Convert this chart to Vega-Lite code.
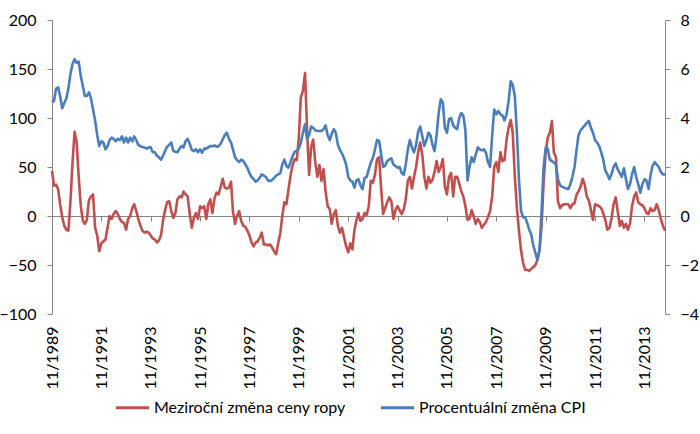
{
"$schema":"https://vega.github.io/schema/vega-lite/v6.json",
"width":613,"height":294,
"autosize":{"type":"none"},
"padding":{"left":52,"top":20,"right":35,"bottom":120},
"background":"white",
"config":{"view":{"stroke":null},"font":"Lato","axis":{"grid":false,"labelFont":"Lato","labelFontSize":16,"labelColor":"#000000","domainColor":"#868686","tickColor":"#868686","title":null}},
"data":{"values":[
{"d":"1989-11","o":46,"c":4.65},{"d":"1989-12","o":31,"c":4.7},
{"d":"1990-01","o":32,"c":5.2},{"d":"1990-02","o":27,"c":5.25},{"d":"1990-03","o":12,"c":4.9},{"d":"1990-04","o":-1,"c":4.4},{"d":"1990-05","o":-10,"c":4.6},{"d":"1990-06","o":-14,"c":4.8},{"d":"1990-07","o":-15,"c":5.2},{"d":"1990-08","o":15,"c":5.8},{"d":"1990-09","o":55,"c":6.2},{"d":"1990-10","o":86,"c":6.4},{"d":"1990-11","o":75,"c":6.25},{"d":"1990-12","o":40,"c":6.3},
{"d":"1991-01","o":10,"c":5.7},{"d":"1991-02","o":-5,"c":5.3},{"d":"1991-03","o":-8,"c":4.9},{"d":"1991-04","o":-4,"c":4.9},{"d":"1991-05","o":16,"c":5.05},{"d":"1991-06","o":20,"c":4.8},{"d":"1991-07","o":22,"c":4.35},{"d":"1991-08","o":-12,"c":3.9},{"d":"1991-09","o":-20,"c":3.3},{"d":"1991-10","o":-36,"c":2.86},{"d":"1991-11","o":-28,"c":3.05},{"d":"1991-12","o":-26,"c":3.0},
{"d":"1992-01","o":-24,"c":2.72},{"d":"1992-02","o":-12,"c":2.85},{"d":"1992-03","o":0,"c":3.1},{"d":"1992-04","o":-3,"c":3.2},{"d":"1992-05","o":2,"c":3.15},{"d":"1992-06","o":5,"c":3.05},{"d":"1992-07","o":2,"c":3.15},{"d":"1992-08","o":-3,"c":3.1},{"d":"1992-09","o":-6,"c":3.25},{"d":"1992-10","o":-7,"c":3.0},{"d":"1992-11","o":-14,"c":3.2},{"d":"1992-12","o":-3,"c":3.0},
{"d":"1993-01","o":0,"c":3.2},{"d":"1993-02","o":8,"c":3.05},{"d":"1993-03","o":12,"c":3.25},{"d":"1993-04","o":5,"c":3.1},{"d":"1993-05","o":-3,"c":2.9},{"d":"1993-06","o":-10,"c":2.85},{"d":"1993-07","o":-15,"c":2.82},{"d":"1993-08","o":-17,"c":2.8},{"d":"1993-09","o":-16,"c":2.75},{"d":"1993-10","o":-17,"c":2.8},{"d":"1993-11","o":-20,"c":2.8},{"d":"1993-12","o":-23,"c":2.6},
{"d":"1994-01","o":-24,"c":2.6},{"d":"1994-02","o":-27,"c":2.45},{"d":"1994-03","o":-25,"c":2.4},{"d":"1994-04","o":-20,"c":2.3},{"d":"1994-05","o":-5,"c":2.45},{"d":"1994-06","o":6,"c":2.65},{"d":"1994-07","o":14,"c":2.83},{"d":"1994-08","o":15,"c":2.9},{"d":"1994-09","o":5,"c":3.0},{"d":"1994-10","o":-2,"c":2.65},{"d":"1994-11","o":3,"c":2.62},{"d":"1994-12","o":17,"c":2.6},
{"d":"1995-01","o":20,"c":2.75},{"d":"1995-02","o":19,"c":2.86},{"d":"1995-03","o":25,"c":2.8},{"d":"1995-04","o":22,"c":3.06},{"d":"1995-05","o":20,"c":3.15},{"d":"1995-06","o":2,"c":2.95},{"d":"1995-07","o":-12,"c":2.7},{"d":"1995-08","o":-2,"c":2.65},{"d":"1995-09","o":3,"c":2.72},{"d":"1995-10","o":-3,"c":2.6},{"d":"1995-11","o":10,"c":2.72},{"d":"1995-12","o":8,"c":2.58},
{"d":"1996-01","o":10,"c":2.75},{"d":"1996-02","o":-3,"c":2.75},{"d":"1996-03","o":12,"c":2.8},{"d":"1996-04","o":17,"c":2.86},{"d":"1996-05","o":3,"c":2.85},{"d":"1996-06","o":18,"c":2.88},{"d":"1996-07","o":24,"c":2.83},{"d":"1996-08","o":22,"c":2.85},{"d":"1996-09","o":30,"c":2.95},{"d":"1996-10","o":38,"c":3.13},{"d":"1996-11","o":29,"c":3.3},{"d":"1996-12","o":28,"c":3.4},
{"d":"1997-01","o":29,"c":3.15},{"d":"1997-02","o":35,"c":3.0},{"d":"1997-03","o":5,"c":2.72},{"d":"1997-04","o":-8,"c":2.4},{"d":"1997-05","o":0,"c":2.28},{"d":"1997-06","o":5,"c":2.2},{"d":"1997-07","o":-5,"c":2.3},{"d":"1997-08","o":-10,"c":2.25},{"d":"1997-09","o":-11,"c":2.1},{"d":"1997-10","o":-15,"c":1.97},{"d":"1997-11","o":-20,"c":1.75},{"d":"1997-12","o":-27,"c":1.6},
{"d":"1998-01","o":-31,"c":1.5},{"d":"1998-02","o":-27,"c":1.4},{"d":"1998-03","o":-26,"c":1.45},{"d":"1998-04","o":-22,"c":1.56},{"d":"1998-05","o":-17,"c":1.7},{"d":"1998-06","o":-29,"c":1.65},{"d":"1998-07","o":-29,"c":1.6},{"d":"1998-08","o":-30,"c":1.45},{"d":"1998-09","o":-29,"c":1.43},{"d":"1998-10","o":-32,"c":1.47},{"d":"1998-11","o":-36,"c":1.55},{"d":"1998-12","o":-39,"c":1.65},
{"d":"1999-01","o":-27,"c":1.7},{"d":"1999-02","o":-17,"c":1.75},{"d":"1999-03","o":0,"c":2.1},{"d":"1999-04","o":14,"c":2.3},{"d":"1999-05","o":12,"c":2.05},{"d":"1999-06","o":27,"c":1.97},{"d":"1999-07","o":41,"c":2.2},{"d":"1999-08","o":52,"c":2.45},{"d":"1999-09","o":58,"c":2.62},{"d":"1999-10","o":57,"c":2.65},{"d":"1999-11","o":80,"c":2.75},{"d":"1999-12","o":121,"c":3.0},
{"d":"2000-01","o":128,"c":3.4},{"d":"2000-02","o":146,"c":3.74},{"d":"2000-03","o":90,"c":3.15},{"d":"2000-04","o":42,"c":3.3},{"d":"2000-05","o":70,"c":3.65},{"d":"2000-06","o":78,"c":3.6},{"d":"2000-07","o":55,"c":3.5},{"d":"2000-08","o":40,"c":3.47},{"d":"2000-09","o":52,"c":3.47},{"d":"2000-10","o":36,"c":3.47},{"d":"2000-11","o":48,"c":3.54},{"d":"2000-12","o":25,"c":3.7},
{"d":"2001-01","o":10,"c":3.3},{"d":"2001-02","o":7,"c":3.1},{"d":"2001-03","o":-8,"c":3.35},{"d":"2001-04","o":2,"c":3.54},{"d":"2001-05","o":6,"c":3.4},{"d":"2001-06","o":-10,"c":2.9},{"d":"2001-07","o":-17,"c":2.7},{"d":"2001-08","o":-12,"c":2.55},{"d":"2001-09","o":-22,"c":2.35},{"d":"2001-10","o":-31,"c":2.1},{"d":"2001-11","o":-37,"c":1.6},{"d":"2001-12","o":-28,"c":1.45},
{"d":"2002-01","o":-34,"c":1.4},{"d":"2002-02","o":-14,"c":1.16},{"d":"2002-03","o":-5,"c":1.45},{"d":"2002-04","o":3,"c":1.5},{"d":"2002-05","o":-5,"c":1.25},{"d":"2002-06","o":-3,"c":1.1},{"d":"2002-07","o":3,"c":1.55},{"d":"2002-08","o":1,"c":1.6},{"d":"2002-09","o":10,"c":1.9},{"d":"2002-10","o":36,"c":2.18},{"d":"2002-11","o":34,"c":2.38},{"d":"2002-12","o":42,"c":2.7},
{"d":"2003-01","o":58,"c":3.1},{"d":"2003-02","o":60,"c":3.06},{"d":"2003-03","o":30,"c":2.55},{"d":"2003-04","o":2,"c":2.0},{"d":"2003-05","o":8,"c":2.05},{"d":"2003-06","o":14,"c":2.24},{"d":"2003-07","o":19,"c":2.31},{"d":"2003-08","o":15,"c":2.35},{"d":"2003-09","o":-3,"c":2.1},{"d":"2003-10","o":6,"c":2.04},{"d":"2003-11","o":10,"c":1.97},{"d":"2003-12","o":6,"c":2.0},
{"d":"2004-01","o":2,"c":1.75},{"d":"2004-02","o":7,"c":1.68},{"d":"2004-03","o":17,"c":2.1},{"d":"2004-04","o":36,"c":2.72},{"d":"2004-05","o":40,"c":3.1},{"d":"2004-06","o":28,"c":2.8},{"d":"2004-07","o":40,"c":2.6},{"d":"2004-08","o":50,"c":2.9},{"d":"2004-09","o":65,"c":3.45},{"d":"2004-10","o":75,"c":3.65},{"d":"2004-11","o":62,"c":3.25},{"d":"2004-12","o":40,"c":2.86},
{"d":"2005-01","o":28,"c":3.1},{"d":"2005-02","o":40,"c":3.4},{"d":"2005-03","o":34,"c":3.3},{"d":"2005-04","o":37,"c":2.9},{"d":"2005-05","o":45,"c":2.65},{"d":"2005-06","o":56,"c":3.3},{"d":"2005-07","o":45,"c":4.2},{"d":"2005-08","o":50,"c":4.76},{"d":"2005-09","o":58,"c":4.63},{"d":"2005-10","o":30,"c":3.6},{"d":"2005-11","o":22,"c":3.4},{"d":"2005-12","o":40,"c":3.95},
{"d":"2006-01","o":44,"c":4.0},{"d":"2006-02","o":20,"c":3.7},{"d":"2006-03","o":40,"c":3.6},{"d":"2006-04","o":40,"c":3.55},{"d":"2006-05","o":33,"c":4.0},{"d":"2006-06","o":25,"c":4.2},{"d":"2006-07","o":20,"c":4.1},{"d":"2006-08","o":10,"c":3.5},{"d":"2006-09","o":-4,"c":1.45},{"d":"2006-10","o":-3,"c":2.0},{"d":"2006-11","o":6,"c":2.4},{"d":"2006-12","o":0,"c":2.2},
{"d":"2007-01","o":-8,"c":2.5},{"d":"2007-02","o":-3,"c":2.8},{"d":"2007-03","o":-6,"c":2.72},{"d":"2007-04","o":-12,"c":2.68},{"d":"2007-05","o":-9,"c":2.72},{"d":"2007-06","o":-6,"c":2.58},{"d":"2007-07","o":-1,"c":2.2},{"d":"2007-08","o":5,"c":2.0},{"d":"2007-09","o":20,"c":3.3},{"d":"2007-10","o":50,"c":4.35},{"d":"2007-11","o":55,"c":4.15},{"d":"2007-12","o":45,"c":4.29},
{"d":"2008-01","o":65,"c":4.15},{"d":"2008-02","o":56,"c":4.1},{"d":"2008-03","o":57,"c":3.9},{"d":"2008-04","o":78,"c":4.15},{"d":"2008-05","o":90,"c":4.7},{"d":"2008-06","o":98,"c":5.5},{"d":"2008-07","o":85,"c":5.35},{"d":"2008-08","o":40,"c":4.9},{"d":"2008-09","o":8,"c":3.4},{"d":"2008-10","o":-15,"c":1.5},{"d":"2008-11","o":-35,"c":0.2},{"d":"2008-12","o":-48,"c":-0.05},
{"d":"2009-01","o":-55,"c":-0.05},{"d":"2009-02","o":-55,"c":-0.3},{"d":"2009-03","o":-56,"c":-0.55},{"d":"2009-04","o":-54,"c":-0.75},{"d":"2009-05","o":-52,"c":-1.2},{"d":"2009-06","o":-50,"c":-1.5},{"d":"2009-07","o":-45,"c":-1.8},{"d":"2009-08","o":-35,"c":-1.4},{"d":"2009-09","o":-10,"c":0.2},{"d":"2009-10","o":35,"c":2.0},{"d":"2009-11","o":65,"c":2.8},{"d":"2009-12","o":80,"c":2.75},
{"d":"2010-01","o":85,"c":2.3},{"d":"2010-02","o":97,"c":2.24},{"d":"2010-03","o":65,"c":2.18},{"d":"2010-04","o":60,"c":2.1},{"d":"2010-05","o":15,"c":1.5},{"d":"2010-06","o":8,"c":1.25},{"d":"2010-07","o":11,"c":1.2},{"d":"2010-08","o":12,"c":1.16},{"d":"2010-09","o":12,"c":1.12},{"d":"2010-10","o":12,"c":1.1},{"d":"2010-11","o":8,"c":1.3},{"d":"2010-12","o":12,"c":1.6},
{"d":"2011-01","o":13,"c":2.0},{"d":"2011-02","o":22,"c":2.7},{"d":"2011-03","o":25,"c":3.3},{"d":"2011-04","o":30,"c":3.5},{"d":"2011-05","o":38,"c":3.6},{"d":"2011-06","o":32,"c":3.7},{"d":"2011-07","o":20,"c":3.8},{"d":"2011-08","o":16,"c":3.88},{"d":"2011-09","o":6,"c":3.6},{"d":"2011-10","o":-4,"c":3.4},{"d":"2011-11","o":12,"c":3.1},{"d":"2011-12","o":11,"c":3.0},
{"d":"2012-01","o":10,"c":2.85},{"d":"2012-02","o":8,"c":2.6},{"d":"2012-03","o":3,"c":2.3},{"d":"2012-04","o":-4,"c":1.85},{"d":"2012-05","o":-14,"c":1.7},{"d":"2012-06","o":-12,"c":1.5},{"d":"2012-07","o":-3,"c":1.7},{"d":"2012-08","o":12,"c":2.0},{"d":"2012-09","o":19,"c":2.15},{"d":"2012-10","o":5,"c":1.9},{"d":"2012-11","o":-10,"c":1.75},{"d":"2012-12","o":-5,"c":1.6},
{"d":"2013-01","o":-12,"c":1.95},{"d":"2013-02","o":-8,"c":1.5},{"d":"2013-03","o":-14,"c":1.1},{"d":"2013-04","o":-8,"c":1.3},{"d":"2013-05","o":10,"c":1.7},{"d":"2013-06","o":20,"c":2.0},{"d":"2013-07","o":24,"c":1.6},{"d":"2013-08","o":14,"c":1.3},{"d":"2013-09","o":12,"c":0.95},{"d":"2013-10","o":11,"c":1.3},{"d":"2013-11","o":8,"c":1.5},{"d":"2013-12","o":3,"c":1.45},
{"d":"2014-01","o":2,"c":1.1},{"d":"2014-02","o":8,"c":1.7},{"d":"2014-03","o":5,"c":2.05},{"d":"2014-04","o":6,"c":2.2},{"d":"2014-05","o":12,"c":2.1},{"d":"2014-06","o":6,"c":2.0},{"d":"2014-07","o":-3,"c":1.8},{"d":"2014-08","o":-10,"c":1.7},{"d":"2014-09","o":-15,"c":1.7}
]},
"layer":[
{"mark":{"type":"line","strokeWidth":2.6,"strokeJoin":"round"},
 "encoding":{
  "x":{"field":"d","type":"temporal","scale":{"type":"utc","domain":[{"year":1989,"month":11,"date":1,"utc":true},{"year":2014,"month":9,"date":1,"utc":true}]},
   "axis":{"orient":"bottom","offset":-98,"labels":false,"domain":true,"ticks":true,"tickSize":5,"domainWidth":1,
    "values":[{"year":1989,"month":11,"date":1,"utc":true},{"year":1991,"month":11,"date":1,"utc":true},{"year":1993,"month":11,"date":1,"utc":true},{"year":1995,"month":11,"date":1,"utc":true},{"year":1997,"month":11,"date":1,"utc":true},{"year":1999,"month":11,"date":1,"utc":true},{"year":2001,"month":11,"date":1,"utc":true},{"year":2003,"month":11,"date":1,"utc":true},{"year":2005,"month":11,"date":1,"utc":true},{"year":2007,"month":11,"date":1,"utc":true},{"year":2009,"month":11,"date":1,"utc":true},{"year":2011,"month":11,"date":1,"utc":true},{"year":2013,"month":11,"date":1,"utc":true}]}},
  "y":{"field":"o","type":"quantitative","scale":{"domain":[-100,200],"nice":false,"zero":false},
   "axis":{"orient":"left","values":[-100,-50,0,50,100,150,200],"tickSize":5,"labelPadding":11}},
  "color":{"datum":"Meziroční změna ceny ropy","type":"nominal","scale":{"domain":["Meziroční změna ceny ropy","Procentuální změna CPI"],"range":["#C0504D","#4A7EBB"]},
   "legend":{"orient":"none","legendX":62,"legendY":369,"direction":"horizontal","title":null,"symbolType":"stroke","symbolSize":1100,"symbolStrokeWidth":3,"labelFont":"Lato","labelFontSize":16,"labelColor":"#000000","columnPadding":28,"labelOffset":3,"labelLimit":400,"padding":0}}
 }},
{"mark":{"type":"line","strokeWidth":2.6,"strokeJoin":"round"},
 "encoding":{
  "x":{"field":"d","type":"temporal",
   "axis":{"orient":"bottom","domain":false,"ticks":false,"labelAngle":270,"labelAlign":"right","labelBaseline":"middle","labelPadding":12,"format":"%m/%Y",
    "values":[{"year":1989,"month":11,"date":1,"utc":true},{"year":1991,"month":11,"date":1,"utc":true},{"year":1993,"month":11,"date":1,"utc":true},{"year":1995,"month":11,"date":1,"utc":true},{"year":1997,"month":11,"date":1,"utc":true},{"year":1999,"month":11,"date":1,"utc":true},{"year":2001,"month":11,"date":1,"utc":true},{"year":2003,"month":11,"date":1,"utc":true},{"year":2005,"month":11,"date":1,"utc":true},{"year":2007,"month":11,"date":1,"utc":true},{"year":2009,"month":11,"date":1,"utc":true},{"year":2011,"month":11,"date":1,"utc":true},{"year":2013,"month":11,"date":1,"utc":true}]}},
  "y":{"field":"c","type":"quantitative","scale":{"domain":[-4,8],"nice":false,"zero":false},
   "axis":{"orient":"right","values":[-4,-2,0,2,4,6,8],"tickSize":5,"labelPadding":10}},
  "color":{"datum":"Procentuální změna CPI","type":"nominal"}
 }}
],
"resolve":{"scale":{"y":"independent"},"axis":{"x":"independent","y":"independent"}}
}
